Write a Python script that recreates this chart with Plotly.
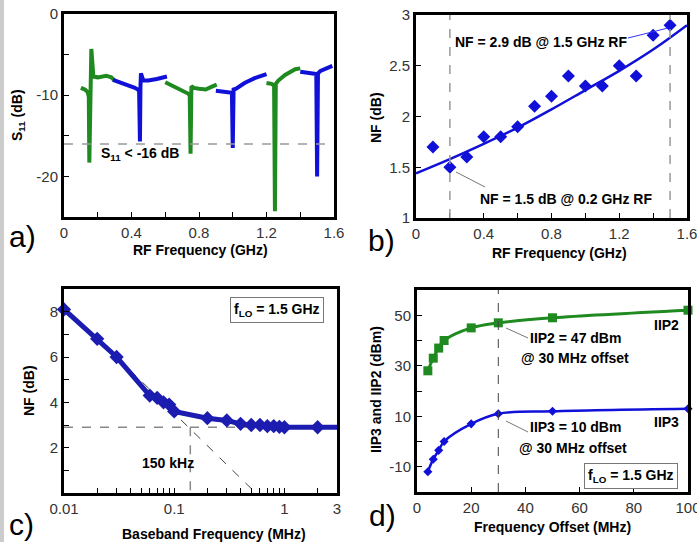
import plotly.graph_objects as go

W, H = 697, 542

# ---------------- Panel a: S11 segments ----------------
a_g1_x = [0.10, 0.124, 0.14, 0.147, 0.150, 0.158, 0.162, 0.174, 0.20, 0.25, 0.28, 0.30]
a_g1_y = [-9.1, -9.3, -9.6, -10.2, -18.3, -5.5, -4.3, -7.7, -7.8, -7.6, -7.8, -8.2]
a_b1_x = [0.29, 0.33, 0.38, 0.42, 0.445, 0.450, 0.453, 0.456, 0.47, 0.50, 0.55, 0.61]
a_b1_y = [-8.1, -8.4, -8.8, -9.1, -9.4, -15.7, -9.0, -7.3, -8.2, -8.2, -8.0, -7.7]
a_g2_x = [0.60, 0.65, 0.70, 0.735, 0.745, 0.750, 0.755, 0.77, 0.80, 0.84, 0.87, 0.905]
a_g2_y = [-8.4, -8.9, -9.4, -9.8, -10.0, -17.2, -8.9, -9.1, -9.2, -9.3, -9.0, -8.7]
a_b2_x = [0.90, 0.94, 0.97, 0.995, 1.000, 1.005, 1.02, 1.07, 1.13, 1.20]
a_b2_y = [-9.45, -9.6, -9.6, -9.7, -16.5, -9.3, -9.2, -8.5, -7.9, -7.4]
a_g3_x = [1.20, 1.23, 1.245, 1.250, 1.255, 1.27, 1.31, 1.37, 1.40]
a_g3_y = [-8.5, -8.6, -8.8, -24.3, -8.6, -8.2, -7.5, -6.8, -6.7]
a_b3_x = [1.40, 1.44, 1.48, 1.495, 1.500, 1.505, 1.52, 1.55, 1.59]
a_b3_y = [-7.1, -7.2, -7.3, -7.4, -20.0, -7.3, -7.0, -6.7, -6.4]
a_limit = -16

# ---------------- Panel b: NF vs RF ----------------
b_x = [0.1, 0.2, 0.3, 0.4, 0.5, 0.6, 0.7, 0.8, 0.9, 1.0, 1.1, 1.2, 1.3, 1.4, 1.5]
b_y = [1.7, 1.5, 1.6, 1.8, 1.8, 1.9, 2.1, 2.2, 2.4, 2.3, 2.3, 2.5, 2.4, 2.8, 2.9]
b_fit_x = [0, 0.2, 0.4, 0.6, 0.8, 1.0, 1.2, 1.4, 1.6]
b_fit_y = [1.44, 1.58, 1.73, 1.89, 2.07, 2.26, 2.45, 2.66, 2.90]
b_marks = [0.2, 1.5]

# ---------------- Panel c: NF vs baseband ----------------
c_x = [0.01, 0.02, 0.03, 0.06, 0.07, 0.08, 0.09, 0.1, 0.2, 0.3, 0.4, 0.5, 0.6, 0.7, 0.8, 0.9, 1.0, 2.0, 3.0]
c_y = [8.1, 6.8, 6.0, 4.3, 4.2, 4.0, 3.9, 3.6, 3.3, 3.2, 3.05, 3.0, 3.0, 2.95, 2.95, 2.92, 2.9, 2.9, 2.9]
c_floor = 2.9
c_corner = 0.14
c_asym_x = [0.03, 0.55]
c_asym_y = [6.0, 0.0]

# ---------------- Panel d: IIP2 / IIP3 ----------------
d_x = [4, 6, 8, 10, 20, 30, 50, 100]
d_iip2 = [28, 33, 37, 40, 45, 47, 49, 52]
d_iip3 = [-12, -7, -3.5, 0, 7, 11, 12, 13]

GREEN = "#1f8a1f"
BLUE = "#1010d8"
DBLUE = "#1c1cb0"
FN = "Liberation Sans, Arial, sans-serif"
FW = "Liberation Sans, Arial, sans-serif"


def px(x):
    return x / W


def py(y):
    return 1 - y / H


fig = go.Figure()

# panel a traces
for xs, ys, col in [(a_g1_x, a_g1_y, GREEN), (a_b1_x, a_b1_y, BLUE), (a_g2_x, a_g2_y, GREEN),
                    (a_b2_x, a_b2_y, BLUE), (a_g3_x, a_g3_y, GREEN), (a_b3_x, a_b3_y, BLUE)]:
    fig.add_trace(go.Scatter(x=xs, y=ys, mode="lines", line=dict(color=col, width=4),
                             xaxis="x", yaxis="y", showlegend=False))

# panel b
fig.add_trace(go.Scatter(x=b_fit_x, y=b_fit_y, mode="lines", line=dict(color=BLUE, width=2.5, shape="spline"),
                         xaxis="x2", yaxis="y2", showlegend=False))
fig.add_trace(go.Scatter(x=b_x, y=b_y, mode="markers", marker=dict(symbol="diamond", size=10, color=BLUE),
                         xaxis="x2", yaxis="y2", showlegend=False, cliponaxis=False))

# panel c
fig.add_trace(go.Scatter(x=[0.01, 3], y=[c_floor, c_floor], mode="lines",
                         line=dict(color="#888888", width=1.5, dash="dash"),
                         xaxis="x3", yaxis="y3", showlegend=False))
fig.add_trace(go.Scatter(x=[c_corner, c_corner], y=[c_floor, 0], mode="lines",
                         line=dict(color="#888888", width=1.5, dash="dash"),
                         xaxis="x3", yaxis="y3", showlegend=False))
fig.add_trace(go.Scatter(x=c_asym_x, y=c_asym_y, mode="lines",
                         line=dict(color="#444444", width=1, dash="dash"),
                         xaxis="x3", yaxis="y3", showlegend=False))
fig.add_trace(go.Scatter(x=c_x, y=c_y, mode="lines+markers", line=dict(color=DBLUE, width=5),
                         marker=dict(symbol="diamond", size=11, color=DBLUE),
                         xaxis="x3", yaxis="y3", showlegend=False, cliponaxis=False))

# panel d
fig.add_trace(go.Scatter(x=d_x, y=d_iip2, mode="lines+markers", line=dict(color=GREEN, width=3, shape="spline"),
                         marker=dict(symbol="square", size=9, color=GREEN),
                         xaxis="x4", yaxis="y4", showlegend=False, cliponaxis=False))
fig.add_trace(go.Scatter(x=d_x, y=d_iip3, mode="lines+markers", line=dict(color=BLUE, width=2.5, shape="spline"),
                         marker=dict(symbol="diamond", size=7, color=BLUE),
                         xaxis="x4", yaxis="y4", showlegend=False, cliponaxis=False))

tickfont = dict(family=FN, size=15, color="#333333")
base = dict(showline=True, linecolor="black", linewidth=3, mirror=True, showgrid=False, zeroline=False,
            ticks="inside", ticklen=5, tickwidth=1.2, tickcolor="black", tickfont=tickfont,
            ticklabelstandoff=0, automargin=False, ticklabeloverflow="allow")

fig.update_layout(
    width=W, height=H, margin=dict(l=0, r=0, t=0, b=0, autoexpand=False),
    plot_bgcolor="white", paper_bgcolor="white",
    xaxis=dict(base, domain=[px(64), px(334)], range=[0, 1.6], anchor="y",
               tickvals=[0, 0.4, 0.8, 1.2, 1.6], ticktext=["0", "0.4", "0.8", "1.2", "1.6"],
               minor=dict(dtick=0.2, tick0=0, ticks="inside", ticklen=5, tickcolor="black")),
    yaxis=dict(base, domain=[py(217), py(14)], range=[-25, 0], anchor="x",
               tickvals=[-20, -10, 0], ticktext=["-20", "-10", "0"],
               minor=dict(dtick=5, tick0=0, ticks="inside", ticklen=5, tickcolor="black")),
    xaxis2=dict(base, domain=[px(416), px(687)], range=[0, 1.6], anchor="y2",
                tickvals=[0, 0.4, 0.8, 1.2, 1.6], ticktext=["0", "0.4", "0.8", "1.2", "1.6"],
                minor=dict(dtick=0.2, tick0=0, ticks="inside", ticklen=5, tickcolor="black")),
    yaxis2=dict(base, domain=[py(218), py(15)], range=[1, 3], anchor="x2",
                tickvals=[1, 1.5, 2, 2.5, 3], ticktext=["1", "1.5", "2", "2.5", "3"]),
    xaxis3=dict(base, domain=[px(64), px(337)], type="log", range=[-2, 0.4771], anchor="y3",
                tickvals=[0.01, 0.1, 1, 3], ticktext=["0.01", "0.1", "1", "3"],
                minor=dict(tickvals=[0.02, 0.03, 0.04, 0.05, 0.06, 0.07, 0.08, 0.09,
                                     0.2, 0.3, 0.4, 0.5, 0.6, 0.7, 0.8, 0.9, 2],
                           ticks="inside", ticklen=5, tickcolor="black")),
    yaxis3=dict(base, domain=[py(493), py(289)], range=[0, 9], anchor="x3",
                tickvals=[2, 4, 6, 8], ticktext=["2", "4", "6", "8"],
                minor=dict(dtick=1, tick0=0, ticks="inside", ticklen=5, tickcolor="black")),
    xaxis4=dict(base, domain=[px(417), px(688)], range=[0, 100], anchor="y4",
                tickvals=[0, 20, 40, 60, 80, 100], ticktext=["0", "20", "40", "60", "80", "100"]),
    yaxis4=dict(base, domain=[py(492), py(290)], range=[-20, 60], anchor="x4",
                tickvals=[-10, 10, 30, 50], ticktext=["-10", "10", "30", "50"],
                minor=dict(dtick=10, tick0=0, ticks="inside", ticklen=5, tickcolor="black")),
)

shapes = []
# left gray page edge
shapes.append(dict(type="rect", xref="paper", yref="paper", x0=0, x1=px(4), y0=0, y1=1,
                   fillcolor="#cccccc", line=dict(width=0), layer="below"))
# panel a limit line
shapes.append(dict(type="line", xref="x", yref="y", x0=0, x1=1.6, y0=a_limit, y1=a_limit,
                   line=dict(color="#999999", width=1.5, dash="dash")))
# panel b vertical markers
for xv in b_marks:
    shapes.append(dict(type="line", xref="x2", yref="y2", x0=xv, x1=xv, y0=1, y1=3,
                       line=dict(color="#999999", width=1.5, dash="dash")))
# panel d vertical marker
shapes.append(dict(type="line", xref="x4", yref="y4", x0=30, x1=30, y0=-20, y1=60,
                   line=dict(color="#444444", width=1, dash="dash")))
# leader lines (paper px)
for (x0, y0, x1, y1, c) in [(628, 38, 668, 28, "#3333ff"), (456, 172, 485, 187, "#777777"),
                            (506, 328, 528, 338, "#777777"), (506, 421, 528, 432, "#777777")]:
    shapes.append(dict(type="line", xref="paper", yref="paper", x0=px(x0), y0=py(y0), x1=px(x1), y1=py(y1),
                       line=dict(color=c, width=1)))
fig.update_layout(shapes=shapes)

ann = []


def txt(x, y, s, size=14, bold=True, family=FN, angle=0, color="black", **kw):
    t = "<b>" + s + "</b>" if bold else s
    d = dict(x=px(x), y=py(y), xref="paper", yref="paper", text=t, showarrow=False,
             font=dict(family=family, size=size, color=color), xanchor="center", yanchor="middle",
             textangle=angle)
    d.update(kw)
    ann.append(d)


# axis titles
txt(200, 250, "RF Frequency (GHz)")
txt(18, 115, "S<sub>11</sub> (dB)", angle=-90)
txt(559, 253, "RF Frequency (GHz)")
txt(376, 118, "NF (dB)", angle=-90)
txt(214, 534, "Baseband Frequency (MHz)")
txt(29, 390, "NF (dB)", angle=-90)
txt(552, 527, "Frequency Offset (MHz)")
txt(376, 390, "IIP3 and IIP2 (dBm)", angle=-90)
# panel labels
txt(22, 237, "a)", size=30, bold=False, family=FW)
txt(381, 240, "b)", size=30, bold=False, family=FW)
txt(21, 524, "c)", size=30, bold=False, family=FW)
txt(382, 515, "d)", size=30, bold=False, family=FW)
# annotations
txt(140, 154, "S<sub>11</sub> &lt; -16 dB")
txt(541, 42, "NF = 2.9 dB @ 1.5 GHz RF")
txt(566, 199, "NF = 1.5 dB @ 0.2 GHz RF")
txt(168, 463, "150 kHz")
txt(277, 310, "f<sub>LO</sub> = 1.5 GHz", bordercolor="#777777", borderwidth=1, borderpad=3, bgcolor="white")
txt(575, 338, "IIP2 = 47 dBm")
txt(575, 358, "@ 30 MHz offset")
txt(575, 427, "IIP3 = 10 dBm")
txt(573, 448, "@ 30 MHz offset")
txt(666, 325, "IIP2")
txt(666, 422, "IIP3")
txt(631, 476, "f<sub>LO</sub> = 1.5 GHz", bordercolor="#777777", borderwidth=1, borderpad=3, bgcolor="white")
fig.update_layout(annotations=ann)

fig.write_html("out.html", config={"displayModeBar": False},
               post_script="document.body.style.margin='0';")
